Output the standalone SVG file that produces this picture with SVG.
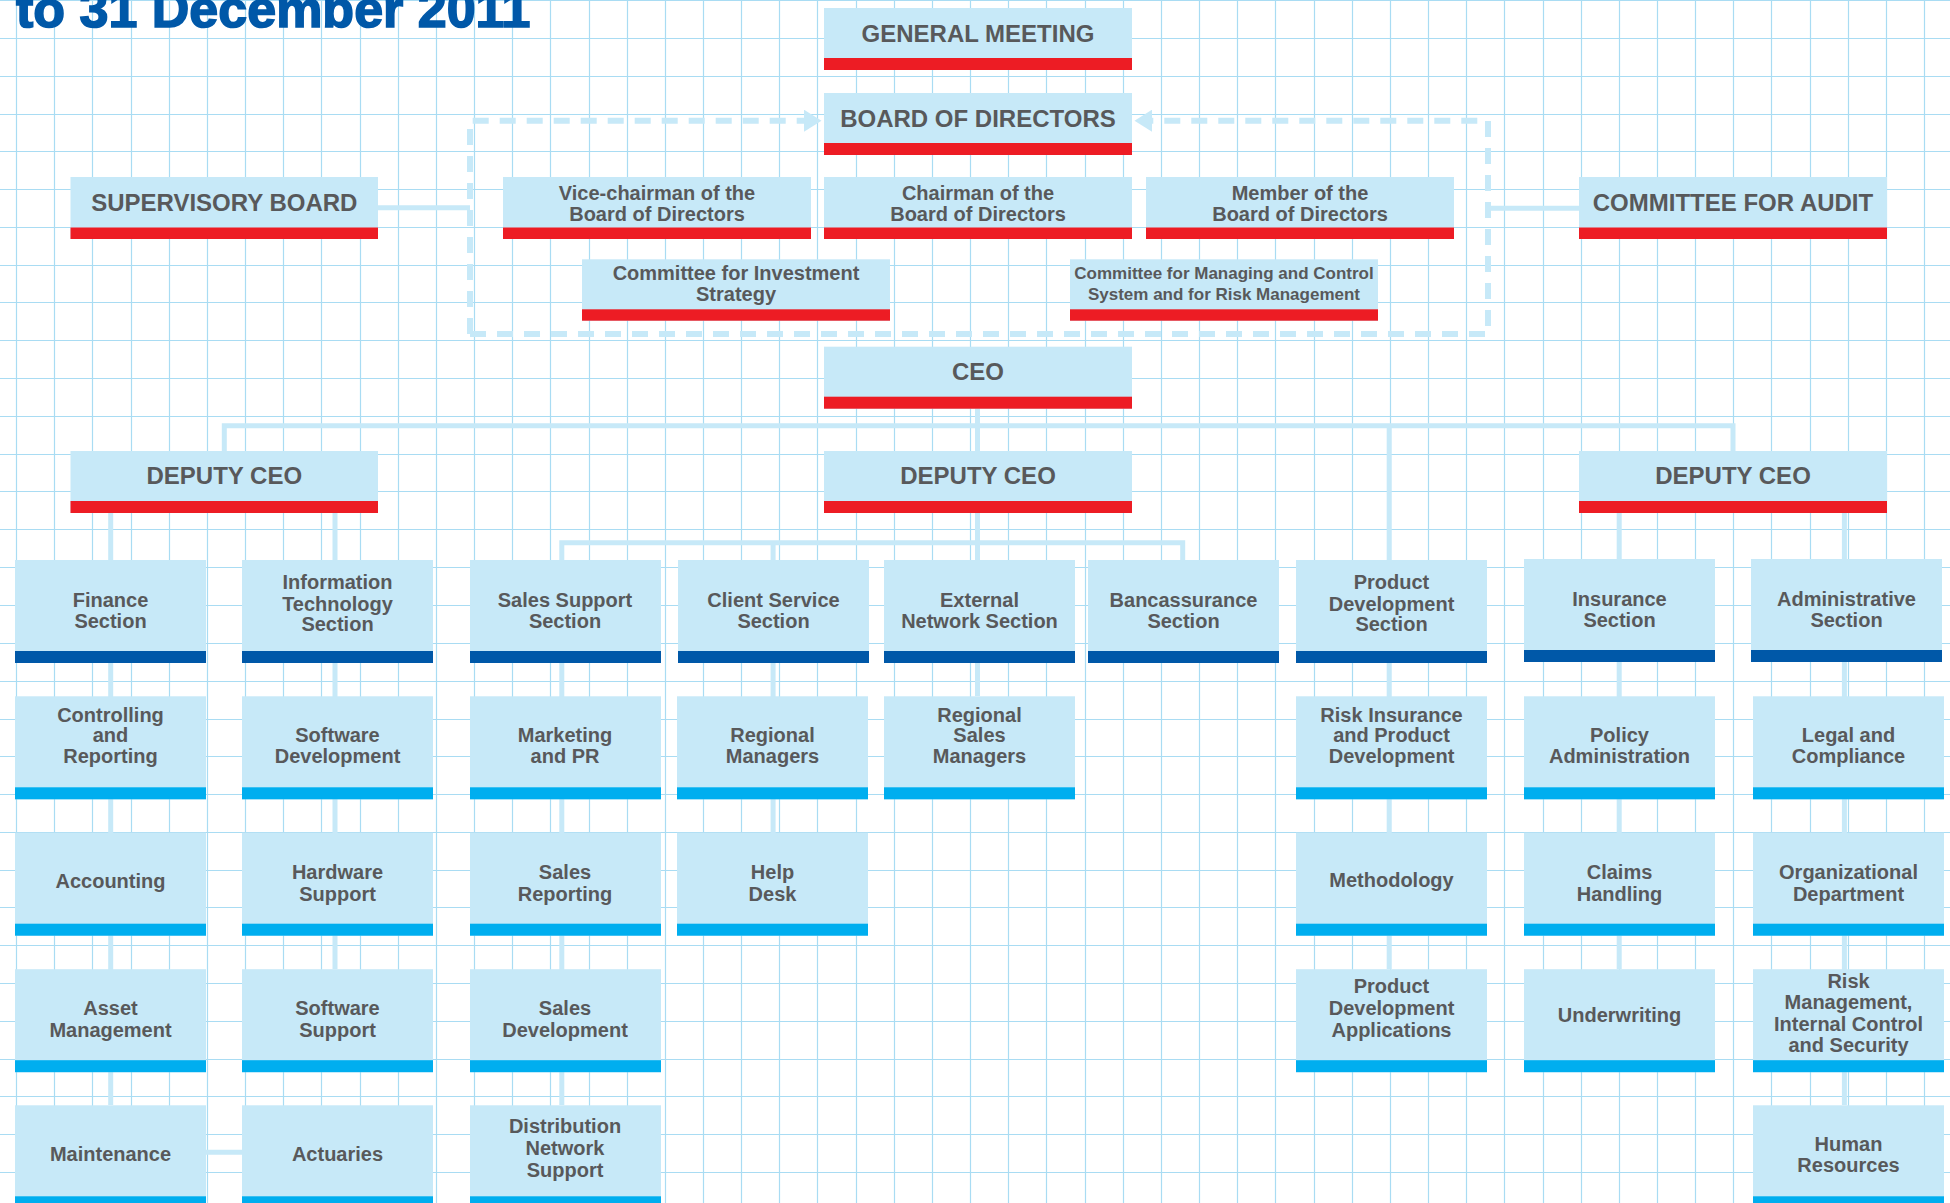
<svg xmlns="http://www.w3.org/2000/svg" width="1950" height="1203" viewBox="0 0 1950 1203">
<defs>
<style>
.grid{stroke:#a9dcf3;stroke-width:1.2;fill:none}
.box{fill:#c7e9f8}
.red{fill:#ed1c24}
.dk{fill:#0058a8}
.lt{fill:#00aeef}
.conn{stroke:#c7e9f8;stroke-width:5;fill:none}
.dash{stroke:#c7e9f8;stroke-width:6;fill:none;stroke-dasharray:16 11}
text{font-family:"Liberation Sans",Arial,sans-serif;font-weight:bold;fill:#58595b;text-anchor:middle}
.h{font-size:24px}
.s{font-size:20px}
.xs{font-size:17px}
.title{font-size:52px;fill:#0058a8;stroke:#0058a8;stroke-width:1.6;text-anchor:start}
</style>
<marker id="arr" markerUnits="userSpaceOnUse" markerWidth="18" markerHeight="22" refX="0" refY="11" orient="auto" viewBox="0 0 18 22">
<path d="M0,0 L17.5,11 L0,22 Z" fill="#c7e9f8"/>
</marker>
</defs>
<rect width="1950" height="1203" fill="#ffffff"/>
<path class="grid" d="M16.5,0V1203M54.5,0V1203M92.5,0V1203M131.5,0V1203M169.5,0V1203M207.5,0V1203M245.5,0V1203M283.5,0V1203M321.5,0V1203M360.5,0V1203M398.5,0V1203M436.5,0V1203M474.5,0V1203M512.5,0V1203M550.5,0V1203M589.5,0V1203M627.5,0V1203M665.5,0V1203M703.5,0V1203M741.5,0V1203M779.5,0V1203M817.5,0V1203M856.5,0V1203M894.5,0V1203M932.5,0V1203M970.5,0V1203M1008.5,0V1203M1046.5,0V1203M1085.5,0V1203M1123.5,0V1203M1161.5,0V1203M1199.5,0V1203M1237.5,0V1203M1275.5,0V1203M1314.5,0V1203M1352.5,0V1203M1390.5,0V1203M1428.5,0V1203M1466.5,0V1203M1504.5,0V1203M1543.5,0V1203M1581.5,0V1203M1619.5,0V1203M1657.5,0V1203M1695.5,0V1203M1733.5,0V1203M1771.5,0V1203M1810.5,0V1203M1848.5,0V1203M1886.5,0V1203M1924.5,0V1203M0,0.5H1950M0,38.5H1950M0,76.5H1950M0,114.5H1950M0,151.5H1950M0,189.5H1950M0,227.5H1950M0,265.5H1950M0,302.5H1950M0,340.5H1950M0,378.5H1950M0,416.5H1950M0,454.5H1950M0,491.5H1950M0,529.5H1950M0,567.5H1950M0,605.5H1950M0,643.5H1950M0,681.5H1950M0,719.5H1950M0,756.5H1950M0,794.5H1950M0,832.5H1950M0,870.5H1950M0,907.5H1950M0,945.5H1950M0,983.5H1950M0,1021.5H1950M0,1059.5H1950M0,1096.5H1950M0,1134.5H1950M0,1172.5H1950"/>
<text class="title" x="16" y="27">to 31 December 2011</text>
<g id="connectors">
<path class="dash" d="M470,334 V120.7 H804" marker-end="url(#arr)"/>
<path class="dash" d="M470,334 H1488 V120.7 H1152" marker-end="url(#arr)"/>
<path class="conn" d="M378,207.7 H470 M1488,208.3 H1579"/>
<path class="conn" d="M977.5,408 V451 M224.3,451 V425.7 H1733 V451 M1389.2,425.7 V560"/>
<path class="conn" d="M110.7,513 V560 M335,513 V560 M977.5,513 V560 M561.8,560 V542.8 H1182.7 V560 M773.1,542.8 V560 M1619.2,513 V559 M1844.4,513 V559"/>
<path class="conn" d="M110.7,663 V1105 M335,663 V969 M561.8,663 V1105 M773.1,663 V833 M977.5,663 V696 M1389.2,663 V969 M1619.2,662 V969 M1844.4,662 V1105 M206,1152.3 H242"/>
</g>
<g id="general-meeting"><rect class="box" x="824" y="8" width="308" height="62"/><rect class="red" x="824" y="58" width="308" height="12"/><text class="h" x="978" y="41.7">GENERAL MEETING</text></g>
<g id="board-of-directors"><rect class="box" x="824" y="93" width="308" height="62"/><rect class="red" x="824" y="143" width="308" height="12"/><text class="h" x="978" y="126.7">BOARD OF DIRECTORS</text></g>
<g id="supervisory-board"><rect class="box" x="70.5" y="177" width="307.5" height="62"/><rect class="red" x="70.5" y="227.5" width="307.5" height="11.5"/><text class="h" x="224.3" y="210.7">SUPERVISORY BOARD</text></g>
<g id="committee-for-audit"><rect class="box" x="1579" y="177" width="308" height="62"/><rect class="red" x="1579" y="227.5" width="308" height="11.5"/><text class="h" x="1733" y="210.7">COMMITTEE FOR AUDIT</text></g>
<g id="vice-chairman"><rect class="box" x="503" y="177" width="308" height="62"/><rect class="red" x="503" y="227.5" width="308" height="11.5"/><text class="s"><tspan x="657" y="200">Vice-chairman of the</tspan><tspan x="657" y="220.7">Board of Directors</tspan></text></g>
<g id="chairman"><rect class="box" x="824" y="177" width="308" height="62"/><rect class="red" x="824" y="227.5" width="308" height="11.5"/><text class="s"><tspan x="978" y="200">Chairman of the</tspan><tspan x="978" y="220.7">Board of Directors</tspan></text></g>
<g id="member"><rect class="box" x="1146" y="177" width="308" height="62"/><rect class="red" x="1146" y="227.5" width="308" height="11.5"/><text class="s"><tspan x="1300" y="200">Member of the</tspan><tspan x="1300" y="220.7">Board of Directors</tspan></text></g>
<g id="committee-investment"><rect class="box" x="582" y="259.3" width="308" height="61.4"/><rect class="red" x="582" y="309.3" width="308" height="11.4"/><text class="s"><tspan x="736" y="280">Committee for Investment</tspan><tspan x="736" y="301">Strategy</tspan></text></g>
<g id="committee-managing"><rect class="box" x="1070" y="259.3" width="308" height="61.4"/><rect class="red" x="1070" y="309.3" width="308" height="11.4"/><text class="xs"><tspan x="1224" y="279.3">Committee for Managing and Control</tspan><tspan x="1224" y="300">System and for Risk Management</tspan></text></g>
<g id="ceo"><rect class="box" x="824" y="346.7" width="308" height="62"/><rect class="red" x="824" y="396.7" width="308" height="12"/><text class="h" x="978" y="380">CEO</text></g>
<g id="deputy-ceo-1"><rect class="box" x="70.5" y="451" width="307.5" height="62"/><rect class="red" x="70.5" y="501" width="307.5" height="12"/><text class="h" x="224.3" y="484.3">DEPUTY CEO</text></g>
<g id="deputy-ceo-2"><rect class="box" x="824" y="451" width="308" height="62"/><rect class="red" x="824" y="501" width="308" height="12"/><text class="h" x="978" y="484.3">DEPUTY CEO</text></g>
<g id="deputy-ceo-3"><rect class="box" x="1579" y="451" width="308" height="62"/><rect class="red" x="1579" y="501" width="308" height="12"/><text class="h" x="1733" y="484.3">DEPUTY CEO</text></g>

<g id="finance-section"><rect class="box" x="15" y="560" width="191" height="103"/><rect class="dk" x="15" y="651" width="191" height="12"/><text class="s"><tspan x="110.5" y="607.3">Finance</tspan><tspan x="110.5" y="628">Section</tspan></text></g>
<g id="it-section"><rect class="box" x="242" y="560" width="191" height="103"/><rect class="dk" x="242" y="651" width="191" height="12"/><text class="s"><tspan x="337.5" y="589.3">Information</tspan><tspan x="337.5" y="610.7">Technology</tspan><tspan x="337.5" y="631.3">Section</tspan></text></g>
<g id="sales-support-section"><rect class="box" x="470" y="560" width="191" height="103"/><rect class="dk" x="470" y="651" width="191" height="12"/><text class="s"><tspan x="565" y="607.3">Sales Support</tspan><tspan x="565" y="628">Section</tspan></text></g>
<g id="client-service-section"><rect class="box" x="678" y="560" width="191" height="103"/><rect class="dk" x="678" y="651" width="191" height="12"/><text class="s"><tspan x="773.5" y="607.3">Client Service</tspan><tspan x="773.5" y="628">Section</tspan></text></g>
<g id="external-network-section"><rect class="box" x="884" y="560" width="191" height="103"/><rect class="dk" x="884" y="651" width="191" height="12"/><text class="s"><tspan x="979.5" y="607.3">External</tspan><tspan x="979.5" y="628">Network Section</tspan></text></g>
<g id="bancassurance-section"><rect class="box" x="1088" y="560" width="191" height="103"/><rect class="dk" x="1088" y="651" width="191" height="12"/><text class="s"><tspan x="1183.5" y="607.3">Bancassurance</tspan><tspan x="1183.5" y="628">Section</tspan></text></g>
<g id="product-development-section"><rect class="box" x="1296" y="560" width="191" height="103"/><rect class="dk" x="1296" y="651" width="191" height="12"/><text class="s"><tspan x="1391.5" y="589.3">Product</tspan><tspan x="1391.5" y="610.7">Development</tspan><tspan x="1391.5" y="631.3">Section</tspan></text></g>
<g id="insurance-section"><rect class="box" x="1524" y="559" width="191" height="103"/><rect class="dk" x="1524" y="650" width="191" height="12"/><text class="s"><tspan x="1619.5" y="606">Insurance</tspan><tspan x="1619.5" y="626.7">Section</tspan></text></g>
<g id="administrative-section"><rect class="box" x="1751" y="559" width="191" height="103"/><rect class="dk" x="1751" y="650" width="191" height="12"/><text class="s"><tspan x="1846.5" y="606">Administrative</tspan><tspan x="1846.5" y="626.7">Section</tspan></text></g>

<g id="controlling-reporting"><rect class="box" x="15" y="696.3" width="191" height="103"/><rect class="lt" x="15" y="787.3" width="191" height="12"/><text class="s"><tspan x="110.5" y="721.7">Controlling</tspan><tspan x="110.5" y="742.3">and</tspan><tspan x="110.5" y="763.3">Reporting</tspan></text></g>
<g id="software-development"><rect class="box" x="242" y="696.3" width="191" height="103"/><rect class="lt" x="242" y="787.3" width="191" height="12"/><text class="s"><tspan x="337.5" y="742.3">Software</tspan><tspan x="337.5" y="763.3">Development</tspan></text></g>
<g id="marketing-pr"><rect class="box" x="470" y="696.3" width="191" height="103"/><rect class="lt" x="470" y="787.3" width="191" height="12"/><text class="s"><tspan x="565" y="742.3">Marketing</tspan><tspan x="565" y="763.3">and PR</tspan></text></g>
<g id="regional-managers"><rect class="box" x="677" y="696.3" width="191" height="103"/><rect class="lt" x="677" y="787.3" width="191" height="12"/><text class="s"><tspan x="772.5" y="742.3">Regional</tspan><tspan x="772.5" y="763.3">Managers</tspan></text></g>
<g id="regional-sales-managers"><rect class="box" x="884" y="696.3" width="191" height="103"/><rect class="lt" x="884" y="787.3" width="191" height="12"/><text class="s"><tspan x="979.5" y="721.7">Regional</tspan><tspan x="979.5" y="742.3">Sales</tspan><tspan x="979.5" y="763.3">Managers</tspan></text></g>
<g id="risk-insurance"><rect class="box" x="1296" y="696.3" width="191" height="103"/><rect class="lt" x="1296" y="787.3" width="191" height="12"/><text class="s"><tspan x="1391.5" y="721.7">Risk Insurance</tspan><tspan x="1391.5" y="742.3">and Product</tspan><tspan x="1391.5" y="763.3">Development</tspan></text></g>
<g id="policy-administration"><rect class="box" x="1524" y="696.3" width="191" height="103"/><rect class="lt" x="1524" y="787.3" width="191" height="12"/><text class="s"><tspan x="1619.5" y="742.3">Policy</tspan><tspan x="1619.5" y="763.3">Administration</tspan></text></g>
<g id="legal-compliance"><rect class="box" x="1753" y="696.3" width="191" height="103"/><rect class="lt" x="1753" y="787.3" width="191" height="12"/><text class="s"><tspan x="1848.5" y="742.3">Legal and</tspan><tspan x="1848.5" y="763.3">Compliance</tspan></text></g>

<g id="accounting"><rect class="box" x="15" y="832.7" width="191" height="103"/><rect class="lt" x="15" y="923.7" width="191" height="12"/><text class="s" x="110.5" y="888">Accounting</text></g>
<g id="hardware-support"><rect class="box" x="242" y="832.7" width="191" height="103"/><rect class="lt" x="242" y="923.7" width="191" height="12"/><text class="s"><tspan x="337.5" y="879">Hardware</tspan><tspan x="337.5" y="900.7">Support</tspan></text></g>
<g id="sales-reporting"><rect class="box" x="470" y="832.7" width="191" height="103"/><rect class="lt" x="470" y="923.7" width="191" height="12"/><text class="s"><tspan x="565" y="879">Sales</tspan><tspan x="565" y="900.7">Reporting</tspan></text></g>
<g id="help-desk"><rect class="box" x="677" y="832.7" width="191" height="103"/><rect class="lt" x="677" y="923.7" width="191" height="12"/><text class="s"><tspan x="772.5" y="879">Help</tspan><tspan x="772.5" y="900.7">Desk</tspan></text></g>
<g id="methodology"><rect class="box" x="1296" y="832.7" width="191" height="103"/><rect class="lt" x="1296" y="923.7" width="191" height="12"/><text class="s" x="1391.5" y="886.5">Methodology</text></g>
<g id="claims-handling"><rect class="box" x="1524" y="832.7" width="191" height="103"/><rect class="lt" x="1524" y="923.7" width="191" height="12"/><text class="s"><tspan x="1619.5" y="879">Claims</tspan><tspan x="1619.5" y="900.7">Handling</tspan></text></g>
<g id="organizational-department"><rect class="box" x="1753" y="832.7" width="191" height="103"/><rect class="lt" x="1753" y="923.7" width="191" height="12"/><text class="s"><tspan x="1848.5" y="879">Organizational</tspan><tspan x="1848.5" y="900.7">Department</tspan></text></g>

<g id="asset-management"><rect class="box" x="15" y="969.2" width="191" height="103"/><rect class="lt" x="15" y="1060.2" width="191" height="12"/><text class="s"><tspan x="110.5" y="1015">Asset</tspan><tspan x="110.5" y="1036.7">Management</tspan></text></g>
<g id="software-support"><rect class="box" x="242" y="969.2" width="191" height="103"/><rect class="lt" x="242" y="1060.2" width="191" height="12"/><text class="s"><tspan x="337.5" y="1015">Software</tspan><tspan x="337.5" y="1036.7">Support</tspan></text></g>
<g id="sales-development"><rect class="box" x="470" y="969.2" width="191" height="103"/><rect class="lt" x="470" y="1060.2" width="191" height="12"/><text class="s"><tspan x="565" y="1015">Sales</tspan><tspan x="565" y="1036.7">Development</tspan></text></g>
<g id="product-development-applications"><rect class="box" x="1296" y="969.2" width="191" height="103"/><rect class="lt" x="1296" y="1060.2" width="191" height="12"/><text class="s"><tspan x="1391.5" y="993.3">Product</tspan><tspan x="1391.5" y="1015">Development</tspan><tspan x="1391.5" y="1036.7">Applications</tspan></text></g>
<g id="underwriting"><rect class="box" x="1524" y="969.2" width="191" height="103"/><rect class="lt" x="1524" y="1060.2" width="191" height="12"/><text class="s" x="1619.5" y="1021.7">Underwriting</text></g>
<g id="risk-management"><rect class="box" x="1753" y="969.2" width="191" height="103"/><rect class="lt" x="1753" y="1060.2" width="191" height="12"/><text class="s"><tspan x="1848.5" y="988.3">Risk</tspan><tspan x="1848.5" y="1009.3">Management,</tspan><tspan x="1848.5" y="1030.7">Internal Control</tspan><tspan x="1848.5" y="1051.7">and Security</tspan></text></g>

<g id="maintenance"><rect class="box" x="15" y="1105.3" width="191" height="103"/><rect class="lt" x="15" y="1196.3" width="191" height="12"/><text class="s" x="110.5" y="1160.7">Maintenance</text></g>
<g id="actuaries"><rect class="box" x="242" y="1105.3" width="191" height="103"/><rect class="lt" x="242" y="1196.3" width="191" height="12"/><text class="s" x="337.5" y="1160.7">Actuaries</text></g>
<g id="distribution-network-support"><rect class="box" x="470" y="1105.3" width="191" height="103"/><rect class="lt" x="470" y="1196.3" width="191" height="12"/><text class="s"><tspan x="565" y="1133.3">Distribution</tspan><tspan x="565" y="1155">Network</tspan><tspan x="565" y="1176.7">Support</tspan></text></g>
<g id="human-resources"><rect class="box" x="1753" y="1105.3" width="191" height="103"/><rect class="lt" x="1753" y="1196.3" width="191" height="12"/><text class="s"><tspan x="1848.5" y="1150.7">Human</tspan><tspan x="1848.5" y="1172.3">Resources</tspan></text></g>
</svg>
